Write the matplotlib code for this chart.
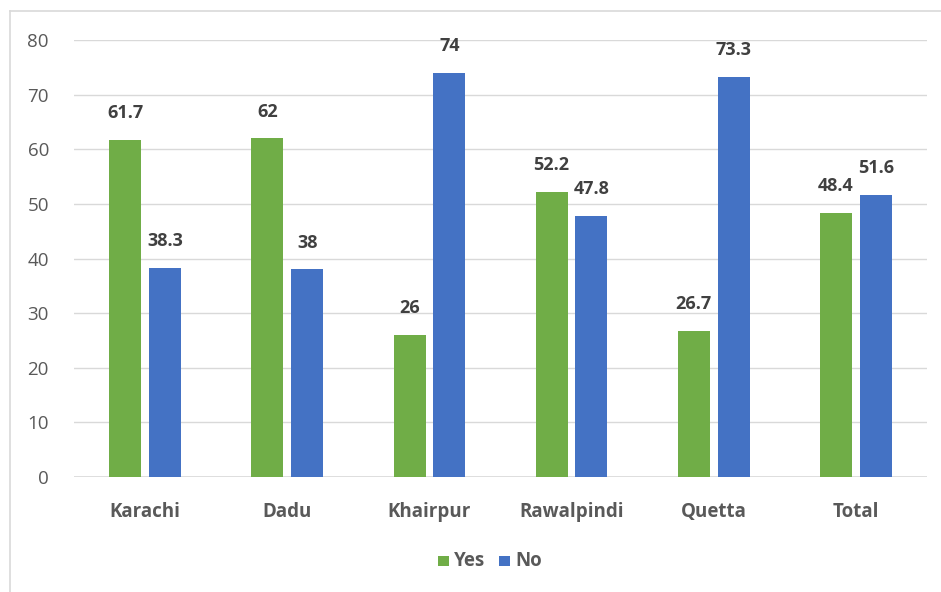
import matplotlib.pyplot as plt
import numpy as np
from matplotlib.lines import Line2D

cities = ["Karachi", "Dadu", "Khairpur", "Rawalpindi", "Quetta", "Total"]
yes = [61.7, 62, 26, 52.2, 26.7, 48.4]
no = [38.3, 38, 74, 47.8, 73.3, 51.6]

green = "#70AD47"
blue = "#4472C4"
txt = "#595959"

plt.rcParams['font.family'] = ['Open Sans', 'DejaVu Sans']

fig = plt.figure(figsize=(9.41, 5.92), dpi=100)
W, H = 941, 592
ax = fig.add_axes([74 / W, 1 - 477 / H, (927 - 74) / W, (477 - 40) / H])

x = np.arange(len(cities))
w = 0.225
gap = 0.055
b1 = ax.bar(x - (w + gap) / 2, yes, w, color=green, label="Yes", zorder=3)
b2 = ax.bar(x + (w + gap) / 2, no, w, color=blue, label="No", zorder=3)

for bars, vals in ((b1, yes), (b2, no)):
    for r, v in zip(bars, vals):
        ax.text(r.get_x() + r.get_width() / 2, v + 4.9, "%g" % v,
                ha="center", va="center", fontsize=13, fontweight="bold",
                color="#404040")

ax.set_xlim(-0.5, len(cities) - 0.5)
ax.set_ylim(0, 80)
ax.set_yticks(range(0, 81, 10))
ax.yaxis.grid(True, color="#D9D9D9", lw=1, zorder=0)
for s in ax.spines.values():
    s.set_visible(False)
ax.axhline(0, color="#D9D9D9", lw=1.2, zorder=2)
ax.tick_params(length=0)
ax.tick_params(axis="y", labelsize=13.5, labelcolor=txt, pad=18)
ax.set_xticks(x)
ax.set_xticklabels(cities, fontsize=13.5, fontweight="bold", color=txt)
ax.tick_params(axis="x", pad=18)

handles = [b1, b2]
leg = fig.legend(handles, ["Yes", "No"], loc="center", bbox_to_anchor=(490 / W, 1 - 561 / H),
                 ncol=2, frameon=False, handlelength=0.75, handleheight=0.75,
                 handletextpad=0.4, columnspacing=1.0)
for t in leg.get_texts():
    t.set_fontsize(13.5)
    t.set_fontweight("bold")
    t.set_color(txt)

# outer border (top and left visible)
fig.add_artist(Line2D([10 / W, 10 / W], [0, 1 - 11 / H], color="#D9D9D9", lw=1.2))
fig.add_artist(Line2D([10 / W, 1], [1 - 11 / H, 1 - 11 / H], color="#D9D9D9", lw=1.2))

plt.savefig("out.png", dpi=100)
